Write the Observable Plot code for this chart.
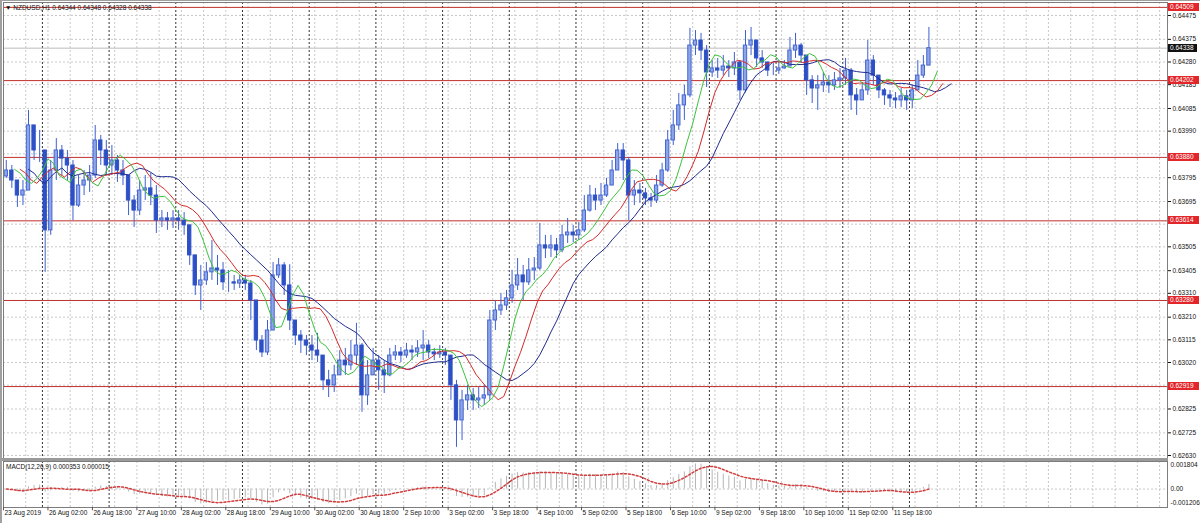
<!DOCTYPE html>
<html><head><meta charset="utf-8">
<script src="https://cdn.jsdelivr.net/npm/d3@7"></script>
<script src="https://cdn.jsdelivr.net/npm/@observablehq/plot@0.6"></script>
<style>
body{margin:0;background:#fff;}
#wrap{position:relative;width:1200px;height:523px;overflow:hidden;background:#fff;font-family:"Liberation Sans",Arial,sans-serif;}
#wrap > svg{position:absolute;left:0;}
.lbl{position:absolute;left:1168px;width:31px;height:8px;line-height:8px;font-size:6.5px;color:#fff;padding-left:2px;box-sizing:border-box;white-space:nowrap;}
.txt{position:absolute;font-size:6.5px;white-space:nowrap;color:#111;}
.dec{position:absolute;}
</style></head><body><div id="wrap"></div>
<script>
// NZDUSD H1, 2-hour bars starting 23 Aug 2019 10:00 (prices in points, 1e-5)
const closePts=[63825,63783,63720,63741,64014,63909,63909,63574,63825,63909,
63875,63846,63678,63762,63783,63804,63951,63909,63846,63867,
63825,63804,63699,63657,63741,63750,63720,63615,63624,63615,
63624,63615,63595,63469,63343,63364,63398,63414,63406,63356,
63356,63351,63364,63351,63280,63112,63062,63154,63385,63427,
63343,63196,63133,63112,63091,63070,63049,62945,62924,62966,
63028,63008,63049,63091,62882,62966,63028,62987,62966,63049,
63062,63049,63070,63062,63079,63091,63062,63054,63062,63049,
62924,62777,62861,62882,62861,62869,62882,63196,63238,63259,
63289,63343,63385,63356,63406,63414,63511,63498,63511,63490,
63553,63565,63553,63574,63657,63720,63699,63720,63762,63825,
63909,63867,63720,63741,63729,63708,63699,63762,63825,63951,
64014,64098,64140,64349,64370,64328,64236,64253,64244,64261,
64253,64278,64161,64349,64370,64295,64278,64244,64244,64253,
64261,64328,64349,64307,64203,64169,64182,64194,64182,64203,
64211,64244,64140,64119,64161,64286,64223,64161,64140,64127,
64119,64136,64119,64161,64223,64265,64338];
const highPts=[63867,63846,63783,63783,64077,63993,63993,63909,63867,63959,
63930,63909,63867,63804,63825,63846,64014,63972,63951,63930,
63888,63867,63804,63720,63783,63804,63813,63762,63657,63649,
63657,63657,63649,63595,63469,63427,63439,63532,63469,63439,
63406,63385,63385,63385,63364,63280,63133,63196,63439,63456,
63439,63430,63196,63154,63133,63133,63142,63049,62987,63008,
63070,63079,63112,63184,63100,63028,63079,63049,63028,63079,
63091,63083,63100,63091,63112,63154,63112,63079,63091,63079,
63049,62945,62903,62924,62911,62915,62924,63238,63280,63309,
63322,63406,63456,63427,63456,63460,63603,63553,63553,63540,
63595,63624,63595,63607,63720,63762,63750,63771,63792,63867,
63938,63938,63880,63783,63771,63750,63729,63804,63855,63993,
64077,64148,64182,64421,64412,64400,64349,64286,64295,64307,
64286,64320,64286,64412,64425,64349,64328,64278,64274,64278,
64286,64383,64400,64358,64307,64223,64223,64236,64223,64236,
64253,64295,64253,64169,64194,64370,64307,64223,64169,64161,
64152,64169,64161,64182,64286,64307,64425];
const lowPts=[63792,63750,63670,63678,63741,63867,63859,63398,63553,63783,
63804,63783,63615,63670,63720,63733,63792,63846,63804,63804,
63775,63762,63636,63586,63636,63699,63678,63561,63586,63574,
63582,63574,63553,63427,63301,63238,63343,63364,63343,63322,
63314,63322,63330,63322,63196,63070,63041,63049,63154,63372,
63301,63154,63091,63058,63049,63028,63020,62903,62873,62894,
62966,62966,62987,63008,62811,62840,62966,62903,62890,62960,
63028,63020,63037,63028,63041,63028,63037,63028,63037,63008,
62861,62664,62693,62819,62819,62827,62840,62861,63154,63217,
63238,63268,63322,63280,63343,63364,63405,63456,63460,63456,
63480,63519,63523,63532,63565,63650,63657,63678,63712,63762,
63825,63783,63615,63678,63687,63678,63670,63687,63754,63817,
63930,63993,64035,64130,64307,64286,64173,64215,64211,64223,
64215,64223,64119,64150,64307,64257,64253,64219,64223,64228,
64250,64278,64295,64274,64140,64106,64077,64152,64148,64161,
64169,64182,64077,64056,64119,64140,64182,64127,64098,64089,
64085,64089,64077,64085,64161,64211,64265];
const firstOpen=0.63800;

// horizontal grid levels; labels hidden under the red level boxes are not printed
const priceGrid=[0.64475,0.64375,0.64280,0.64185,0.64085,0.63990,0.63895,0.63795,0.63695,0.63600,0.63505,0.63405,0.63310,0.63210,0.63115,0.63020,0.62925,0.62825,0.62725,0.62630];
const priceLabels=[0.64475,0.64375,0.64280,0.64185,0.64085,0.63990,0.63795,0.63695,0.63505,0.63405,0.63310,0.63210,0.63115,0.63020,0.62825,0.62725,0.62630];
const levels=[0.64509,0.64202,0.63880,0.63614,0.63280,0.62919];
const bid=0.64338;
const timeLabels=["23 Aug 2019","26 Aug 02:00","26 Aug 18:00","27 Aug 10:00","28 Aug 02:00","28 Aug 18:00","29 Aug 10:00","30 Aug 02:00","30 Aug 18:00","2 Sep 10:00","3 Sep 02:00","3 Sep 18:00","4 Sep 10:00","5 Sep 02:00","5 Sep 18:00","6 Sep 10:00","9 Sep 02:00","9 Sep 18:00","10 Sep 10:00","11 Sep 02:00","11 Sep 18:00"];
const timeLabelHours=[0,16,32,48,64,80,96,112,128,144,160,176,192,208,224,240,256,272,288,304,320];
const dayStartHours=[14,38,62,86,110,134,158,182,206,230,254,278,302,326,350];
const gridHours=[8,16,24,32,40,48,56,64,72,80,88,96,104,112,120,128,136,144,152,160,168,176,184,192,200,208,216,224,232,240,248,256,264,272,280,288,296,304,312,320,328,336,344,352,360,368,376,384,392,400,408,416];
const macdAxis=[{v:0.001804,t:"0.001804"},{v:0,t:"0.00"},{v:-0.001206,t:"-0.001206"}];

const bars=closePts.map((c,i)=>{
  const high=highPts[i]/1e5, low=lowPts[i]/1e5;
  return {h:2*i+0.5, open:i?closePts[i-1]/1e5:firstOpen, close:c/1e5, high, low, mid:(high+low)/2};
});
// MACD(12,26,9) on hourly -> 6/13 periods on 2-hour bars
function ema(arr,n){const a=2/(n+1);let e=arr[0];return arr.map(v=>(e=e+a*(v-e)));}
const cl=bars.map(d=>d.close);
const e1=ema(cl,6), e2=ema(cl,13);
const macd=bars.map((d,i)=>({h:d.h, m:e1[i]-e2[i]}));

const xDomain=[-0.5,418.35];
const font="'Liberation Sans',Arial,sans-serif";
const gridStroke="#c9c9c9";

const main=Plot.plot({
  width:1200,height:460,marginLeft:3,marginRight:33,marginTop:2,marginBottom:2,
  style:{background:"transparent",fontFamily:font,fontSize:"6.5px",color:"#111"},
  x:{domain:xDomain,range:[3,1167],axis:null},
  y:{domain:[0.626174,0.645295],range:[458,2],axis:"right",ticks:priceLabels,tickFormat:d3.format(".5f"),tickSize:3,tickPadding:2,label:null},
  marks:[
    Plot.ruleY(priceGrid,{stroke:gridStroke,strokeDasharray:"2,2"}),
    Plot.ruleX(gridHours,{x:d=>d-0.5,stroke:gridStroke,strokeDasharray:"2,2"}),
    Plot.ruleX(dayStartHours,{x:d=>d-0.5,stroke:"#333",strokeDasharray:"2,2"}),
    Plot.ruleY([bid],{stroke:"#bcbcbc"}),
    Plot.ruleY(levels,{stroke:"#c0302b"}),
    Plot.ruleX(bars,{x:"h",y1:"low",y2:"high",stroke:"#3f60cf"}),
    Plot.rect(bars,{filter:d=>d.close>=d.open,x1:d=>d.h-0.6,x2:d=>d.h+0.6,y1:"open",y2:"close",fill:"#8ea6e6",stroke:"#4566d2"}),
    Plot.rect(bars,{filter:d=>d.close<d.open,x1:d=>d.h-0.6,x2:d=>d.h+0.6,y1:"open",y2:"close",fill:"#2d50c6",stroke:"#2d50c6"}),
    Plot.lineY(bars,Plot.windowY({k:12,anchor:"end",reduce:"mean"},{x:d=>d.h+8,y:"mid",stroke:"#1f2b8f",strokeWidth:1})),
    Plot.lineY(bars,Plot.windowY({k:7,anchor:"end",reduce:"mean"},{x:d=>d.h+5,y:"mid",stroke:"#d42a2a",strokeWidth:1})),
    Plot.lineY(bars,Plot.windowY({k:4,anchor:"end",reduce:"mean"},{x:d=>d.h+3,y:"mid",stroke:"#3cc23c",strokeWidth:1})),
    Plot.frame({stroke:"#7d7d7d"})
  ]
});

const sub=Plot.plot({
  width:1200,height:64,marginLeft:3,marginRight:33,marginTop:2,marginBottom:16,
  style:{background:"transparent",fontFamily:font,fontSize:"6.5px",color:"#111"},
  x:{domain:xDomain,range:[3,1167],axis:null},
  y:{domain:[-0.001206,0.001804],range:[48,2],axis:null},
  marks:[
    Plot.ruleX(gridHours,{x:d=>d-0.5,stroke:gridStroke,strokeDasharray:"2,2"}),
    Plot.ruleX(dayStartHours,{x:d=>d-0.5,stroke:"#333",strokeDasharray:"2,2"}),
    Plot.ruleY([0],{stroke:gridStroke,strokeDasharray:"2,2"}),
    Plot.ruleX(macd,{x:"h",y1:0,y2:"m",stroke:"#b5b5b5"}),
    Plot.lineY(macd,Plot.windowY({k:5,anchor:"end",reduce:"mean"},{x:"h",y:"m",stroke:"#d23c3c",strokeDasharray:"2,2"})),
    Plot.frame({stroke:"#7d7d7d"}),
    Plot.text(macdAxis.slice(0,1),{y:"v",text:"t",frameAnchor:"right",dx:3,dy:3,textAnchor:"start",fill:"#111"}),
    Plot.text(macdAxis.slice(1,2),{y:"v",text:"t",frameAnchor:"right",dx:3,textAnchor:"start",fill:"#111"}),
    Plot.text(macdAxis.slice(2,3),{y:"v",text:"t",frameAnchor:"right",dx:3,dy:-5,textAnchor:"start",fill:"#111"}),
    Plot.ruleX(timeLabelHours,{x:d=>d-0.5,y1:-0.001206,y2:-0.00142,stroke:"#555",clip:false}),
    Plot.text(timeLabels,{x:(d,i)=>timeLabelHours[i]-0.5,text:d=>d,frameAnchor:"bottom",dy:7,dx:1,textAnchor:"start",fill:"#111"})
  ]
});

const wrap=document.getElementById("wrap");
main.style.top="0px";
sub.style.top="459px";
wrap.appendChild(main);
wrap.appendChild(sub);

function dec(l,t,w,h,bg){const d=document.createElement("div");d.className="dec";Object.assign(d.style,{left:l+"px",top:t+"px",width:w+"px",height:h+"px",background:bg});wrap.appendChild(d);}
dec(0,0,1200,1,"#a0a0a0");
dec(0,0,2,523,"#a0a0a0");
dec(2,458,1166,3,"#9a9a9a");

const ys=main.scale("y");
levels.forEach(v=>{
  const d=document.createElement("div");d.className="lbl";
  d.style.top=(ys.apply(v)-4)+"px";d.style.background="#e3262a";
  d.textContent=d3.format(".5f")(v);wrap.appendChild(d);
});
{
  const d=document.createElement("div");d.className="lbl";
  d.style.top=(ys.apply(bid)-4)+"px";d.style.background="#111";d.style.width="29px";
  d.textContent=d3.format(".5f")(bid);wrap.appendChild(d);
}
function txt(s,l,t){const d=document.createElement("div");d.className="txt";d.style.left=l+"px";d.style.top=t+"px";d.textContent=s;wrap.appendChild(d);}
txt("\u25BC NZDUSD,H1  0.64344 0.64348 0.64328 0.64338",5,4);
txt("MACD(12,26,9) 0.000353 0.000015",6,463);
</script></body></html>
